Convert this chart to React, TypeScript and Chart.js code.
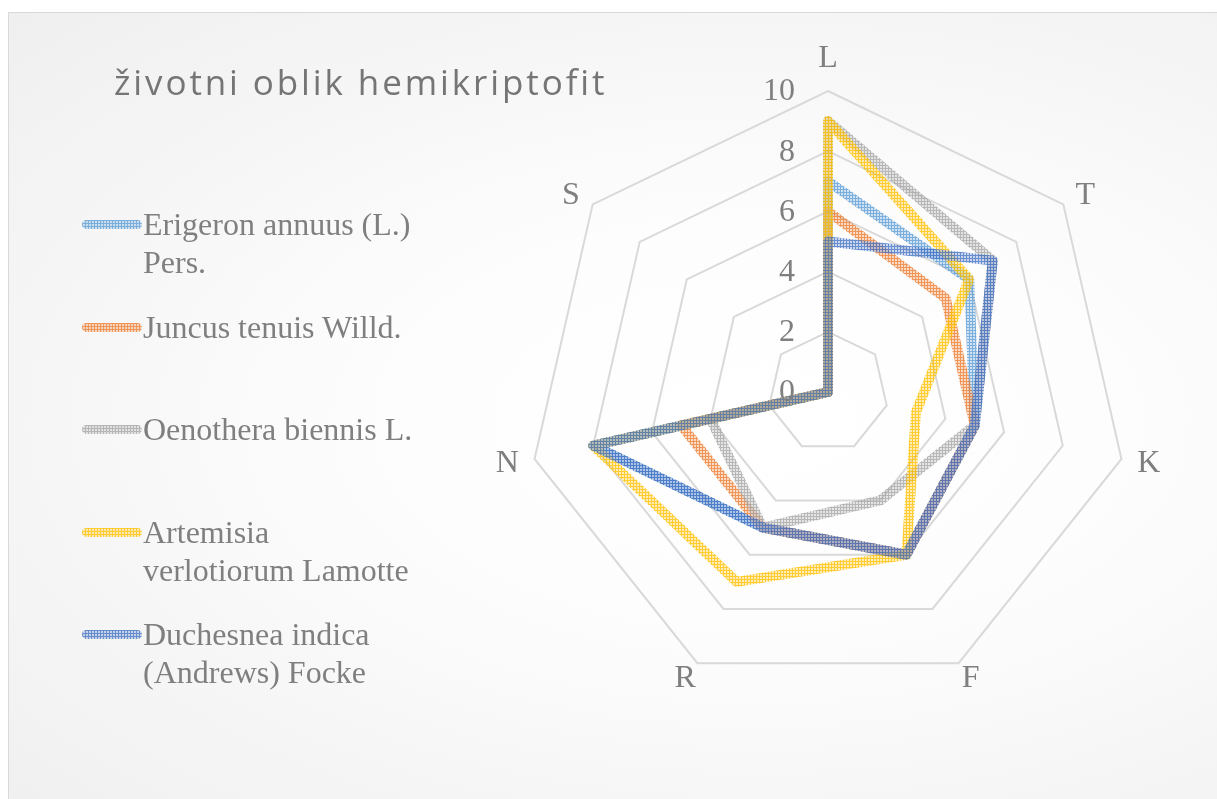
import React, { useEffect, useRef, useState } from "react";
import { Chart, registerables } from "chart.js";

Chart.register(...registerables);

const chartTitle = "životni oblik hemikriptofit";
const axisLabels = ["L", "T", "K", "F", "R", "N", "S"];
const seriesNames = [
  "Erigeron annuus (L.) Pers.",
  "Juncus tenuis Willd.",
  "Oenothera biennis L.",
  "Artemisia verlotiorum Lamotte",
  "Duchesnea indica (Andrews) Focke",
];
const erigeronValues = [7, 6, 5, 6, 5, 8, 0];
const juncusValues = [6, 5, 5, 6, 5, 5, 0];
const oenotheraValues = [9, 7, 5, 4, 5, 4, 0];
const artemisiaValues = [9, 6, 3, 6, 7, 8, 0];
const duchesneaValues = [5, 7, 5, 6, 5, 8, 0];
const tickValues = [0, 2, 4, 6, 8, 10];
const seriesColors = ["#5B9BD5", "#ED7D31", "#A5A5A5", "#FFC000", "#4472C4"];

const legendCenters = [224, 327, 429, 532, 634];

function hexToRgb(hex: string) {
  const n = parseInt(hex.slice(1), 16);
  return [(n >> 16) & 255, (n >> 8) & 255, n & 255];
}

function makeTile(hex: string): HTMLCanvasElement {
  const c = document.createElement("canvas");
  c.width = 3;
  c.height = 3;
  const ctx = c.getContext("2d")!;
  const [r, g, b] = hexToRgb(hex);
  const img = ctx.createImageData(3, 3);
  for (let y = 0; y < 3; y++) {
    for (let x = 0; x < 3; x++) {
      const i = (y * 3 + x) * 4;
      const strong = x === 0 || y === 0;
      img.data[i] = r;
      img.data[i + 1] = g;
      img.data[i + 2] = b;
      img.data[i + 3] = strong ? 205 : 70;
    }
  }
  ctx.putImageData(img, 0, 0);
  return c;
}

const labelPlugin = {
  id: "customLabels",
  afterDraw(chart: any) {
    const scale = chart.scales.r;
    const ctx = chart.ctx;
    ctx.save();
    ctx.fillStyle = "#7f7f7f";
    ctx.font = '32px "Liberation Serif", "Times New Roman", serif';
    ctx.textAlign = "center";
    ctx.textBaseline = "middle";
    const r = scale.drawingArea;
    axisLabels.forEach((lab, i) => {
      const v = scale.getPointPosition(i, r);
      const sx = (v.x - scale.xCenter) / r;
      const sy = (v.y - scale.yCenter) / r;
      const x = scale.xCenter + sx * (r + 28);
      const y = scale.yCenter + sy * (r + 16) - (i === 0 ? 17 : 0);
      ctx.fillText(lab, x, y + 1);
    });
    ctx.textAlign = "right";
    tickValues.forEach((v) => {
      const y = scale.yCenter - scale.getDistanceFromCenterForValue(v);
      ctx.fillText(String(v), scale.xCenter - 33, y + 1);
    });
    ctx.restore();
  },
};

export default function App() {
  const canvasRef = useRef<HTMLCanvasElement | null>(null);
  const [swatches, setSwatches] = useState<string[]>([]);

  useEffect(() => {
    const tiles = seriesColors.map((c) => makeTile(c));
    setSwatches(tiles.map((t) => t.toDataURL()));
    const canvas = canvasRef.current!;
    const ctx = canvas.getContext("2d")!;
    const patterns = tiles.map((t) => ctx.createPattern(t, "repeat")!);
    const seriesValues = [erigeronValues, juncusValues, oenotheraValues, artemisiaValues, duchesneaValues];
    const chart = new Chart(canvas, {
      type: "radar",
      data: {
        labels: axisLabels,
        datasets: seriesNames.map((name, i) => ({
          label: name,
          data: seriesValues[i],
          borderColor: patterns[i] as any,
          backgroundColor: "transparent",
          borderWidth: 10,
          fill: false,
          pointRadius: 0,
          borderJoinStyle: "round",
          borderCapStyle: "round",
          order: seriesNames.length - i,
        })),
      },
      options: {
        responsive: false,
        animation: false,
        layout: { padding: { left: 527, top: 91, right: 88, bottom: 106 } },
        plugins: { legend: { display: false }, tooltip: { enabled: false }, title: { display: false } },
        scales: {
          r: {
            min: 0,
            max: 10,
            ticks: { stepSize: 2, display: false, showLabelBackdrop: false },
            grid: { color: "#d9d9d9", lineWidth: 2 },
            angleLines: { display: false },
            pointLabels: { display: false },
          },
        },
      } as any,
      plugins: [labelPlugin],
    });
    return () => chart.destroy();
  }, []);

  return (
    <div>
      <div
        style={{
          position: "fixed",
          left: 8,
          top: 12,
          width: 1209,
          height: 787,
          borderTop: "1px solid #d9d9d9",
          borderLeft: "1px solid #d9d9d9",
          background: "radial-gradient(ellipse at 62% 52%, #ffffff 0%, #fdfdfd 35%, #efefef 100%)",
        }}
      />
      <canvas
        ref={canvasRef}
        width={1217}
        height={799}
        style={{ position: "fixed", left: 0, top: 0, width: 1217, height: 799 }}
      />
      <div
        style={{
          position: "fixed",
          left: 114,
          top: 58,
          fontFamily: '"Open Sans", sans-serif',
          fontSize: 35,
          letterSpacing: 2.9,
          color: "#757575",
          whiteSpace: "nowrap",
        }}
      >
        {chartTitle}
      </div>
      {seriesNames.map((name, i) => (
        <React.Fragment key={name}>
          <div
            style={{
              position: "fixed",
              left: 82,
              top: legendCenters[i] - 4.5,
              width: 60,
              height: 9,
              borderRadius: 4.5,
              backgroundImage: swatches[i] ? `url(${swatches[i]})` : undefined,
              backgroundRepeat: "repeat",
            }}
          />
          <div
            style={{
              position: "fixed",
              left: 143,
              top: legendCenters[i] - 19,
              width: 275,
              fontFamily: '"Liberation Serif", "Times New Roman", serif',
              fontSize: 32,
              lineHeight: "38px",
              color: "#7f7f7f",
            }}
          >
            {name}
          </div>
        </React.Fragment>
      ))}
    </div>
  );
}
